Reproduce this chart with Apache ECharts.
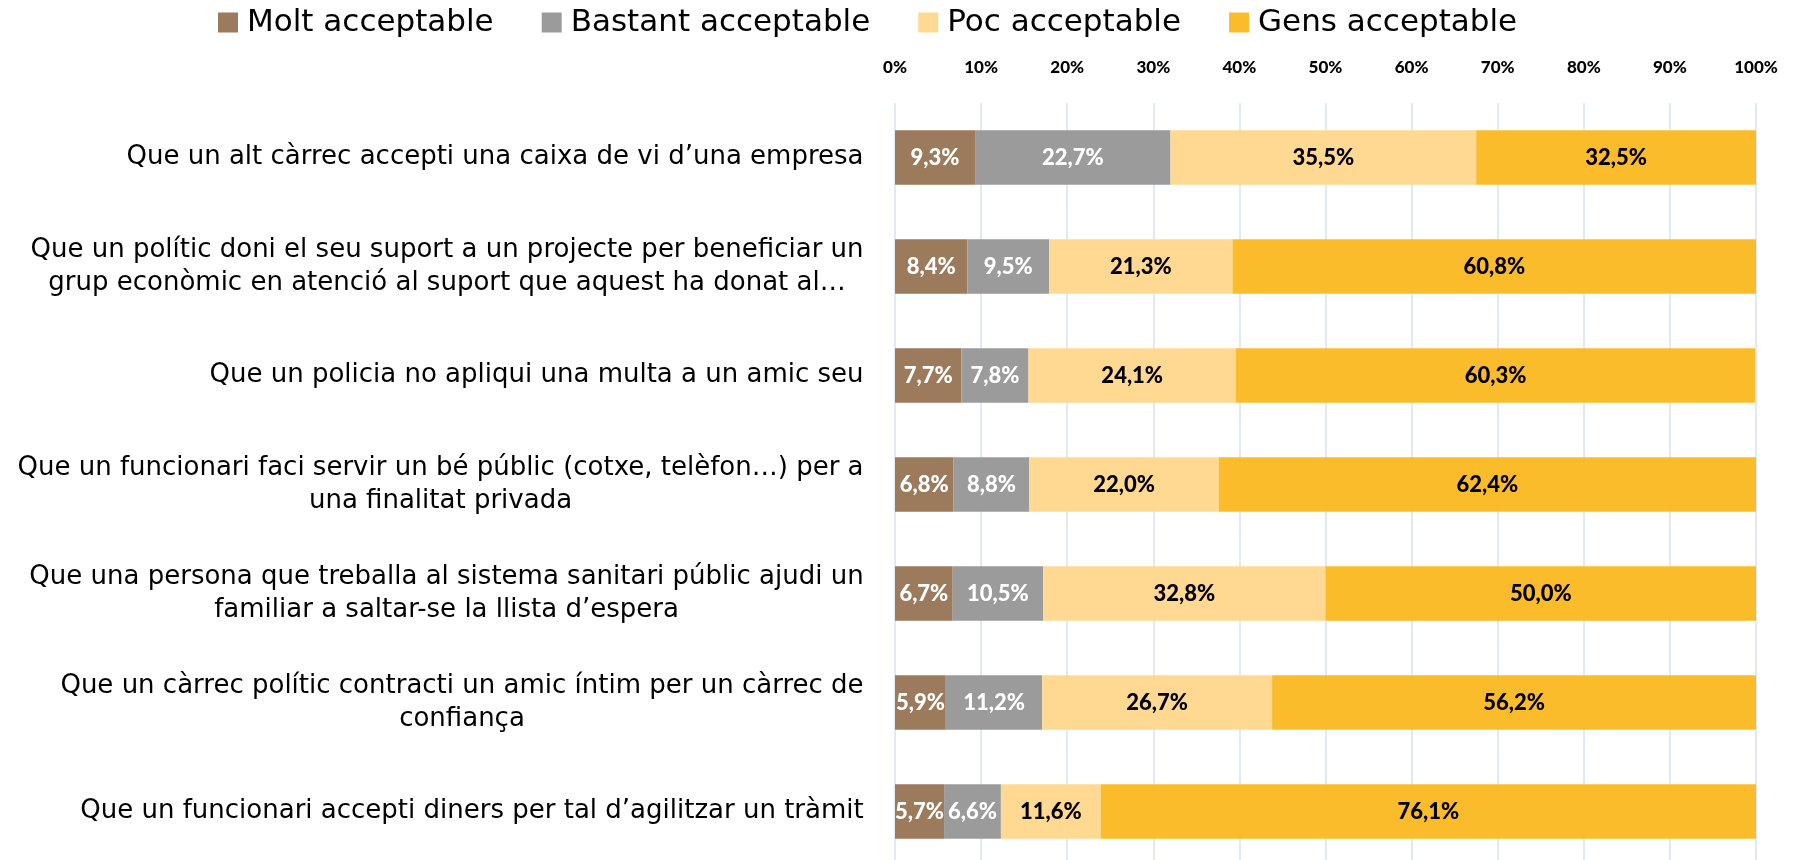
<!DOCTYPE html>
<html>
<head>
<meta charset="utf-8">
<script src="https://cdn.jsdelivr.net/npm/echarts@6/dist/echarts.min.js"></script>
<style>
  html, body { margin: 0; padding: 0; background: #fff; }
  #chart { width: 1800px; height: 860px; }
</style>
</head>
<body>
<div id="chart"></div>
<script>
var categories = [
    'Que un alt càrrec accepti una caixa de vi d’una empresa',
    'Que un polític doni el seu suport a un projecte per beneficiar un\ngrup econòmic en atenció al suport que aquest ha donat al…',
    'Que un policia no apliqui una multa a un amic seu',
    'Que un funcionari faci servir un bé públic (cotxe, telèfon…) per a\nuna finalitat privada',
    'Que una persona que treballa al sistema sanitari públic ajudi un\nfamiliar a saltar-se la llista d’espera',
    'Que un càrrec polític contracti un amic íntim per un càrrec de\nconfiança',
    'Que un funcionari accepti diners per tal d’agilitzar un tràmit'
];
var seriesNames = ['Molt acceptable', 'Bastant acceptable', 'Poc acceptable', 'Gens acceptable'];
var moltValues = [9.3, 8.4, 7.7, 6.8, 6.7, 5.9, 5.7];
var bastantValues = [22.7, 9.5, 7.8, 8.8, 10.5, 11.2, 6.6];
var pocValues = [35.5, 21.3, 24.1, 22.0, 32.8, 26.7, 11.6];
var gensValues = [32.5, 60.8, 60.3, 62.4, 50.0, 56.2, 76.1];
var xTicks = [0, 10, 20, 30, 40, 50, 60, 70, 80, 90, 100];

var colors = ['#9C7A5C', '#9B9B9B', '#FFD992', '#FBBC2B'];
var labelColors = ['#ffffff', '#ffffff', '#000000', '#000000'];
var catFont = '26px "DejaVu Sans"';

var init_chart = function () {
    var myChart = echarts.init(document.getElementById('chart'));

    // measure lines so wrapped labels are centred inside a right-aligned block
    var ctx = document.createElement('canvas').getContext('2d');
    ctx.font = catFont;
    var rich = {};
    categories.forEach(function (c, i) {
        var w = 0;
        c.split('\n').forEach(function (l) {
            w = Math.max(w, ctx.measureText(l).width);
        });
        rich['c' + i] = {
            width: Math.ceil(w) + 2,
            align: 'center',
            fontFamily: 'DejaVu Sans',
            fontSize: 26,
            lineHeight: 33,
            color: '#000'
        };
    });

    var dataSets = [moltValues, bastantValues, pocValues, gensValues];
    var series = seriesNames.map(function (name, k) {
        return {
            name: name,
            type: 'bar',
            stack: 'total',
            barWidth: '50%',
            itemStyle: { color: colors[k] },
            label: {
                show: true,
                position: 'inside',
                color: labelColors[k],
                fontFamily: 'Lato',
                fontWeight: 900,
                fontSize: 22,
                formatter: function (p) {
                    return p.value.toFixed(1).replace('.', ',') + '%';
                }
            },
            data: dataSets[k]
        };
    });

    var option = {
        animation: false,
        legend: {
            data: seriesNames,
            left: 213,
            top: 2,
            itemWidth: 20,
            itemHeight: 20,
            itemGap: 48,
            icon: 'rect',
            textStyle: { fontFamily: 'DejaVu Sans', fontSize: 31, color: '#000', padding: [0, 0, 0, 4] }
        },
        grid: {
            left: 895,
            right: 44,
            top: 103,
            height: 763,
            outerBoundsMode: 'none'
        },
        xAxis: {
            type: 'value',
            position: 'top',
            min: 0,
            max: 100,
            interval: 10,
            axisLine: { show: false },
            axisTick: { show: false },
            splitLine: { lineStyle: { color: '#D6E3F2', width: 1.5 } },
            axisLabel: {
                margin: 27,
                fontFamily: 'Lato',
                fontWeight: 900,
                fontSize: 17,
                color: '#000',
                formatter: function (v) {
                    return xTicks.indexOf(v) >= 0 ? v + '%' : '';
                }
            }
        },
        yAxis: {
            type: 'category',
            inverse: true,
            data: categories,
            axisLine: { show: false },
            axisTick: { show: false },
            axisLabel: {
                margin: 30,
                align: 'right',
                formatter: function (v, i) {
                    return v.split('\n').map(function (l) {
                        return '{c' + i + '|' + l + '}';
                    }).join('\n');
                },
                rich: rich
            }
        },
        series: series
    };

    myChart.setOption(option);
};

init_chart();
</script>
</body>
</html>
